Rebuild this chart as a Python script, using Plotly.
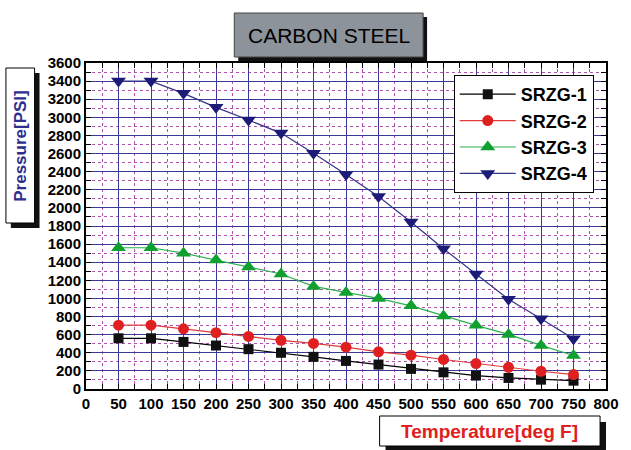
import plotly.graph_objects as go

temps = [50, 100, 150, 200, 250, 300, 350, 400, 450, 500, 550, 600, 650, 700, 750]
srzg1 = [560, 560, 520, 480, 440, 400, 355, 310, 270, 222, 184, 148, 122, 103, 92]
srzg2 = [705, 705, 665, 622, 580, 537, 503, 462, 410, 373, 326, 281, 240, 196, 159]
srzg3 = [1560, 1560, 1500, 1425, 1348, 1270, 1133, 1067, 1000, 918, 807, 703, 603, 481, 370]
srzg4 = [3400, 3400, 3265, 3110, 2970, 2826, 2603, 2370, 2125, 1844, 1548, 1270, 992, 777, 556]
names = ["SRZG-1", "SRZG-2", "SRZG-3", "SRZG-4"]

W, H = 631, 450
L, R, T, B = 86, 19, 63, 61
PW, PH = W - L - R, H - T - B


def px(x):
    return (x - L) / PW


def py(y):
    return (H - B - y) / PH


FONT = "Liberation Sans, Arial, sans-serif"

series = [
    (srzg1, "#000000", "#111111", "square", 10),
    (srzg2, "#e03a3a", "#e02020", "circle", 11),
    (srzg3, "#2eb04e", "#10a030", "triangle-up", 13),
    (srzg4, "#33338a", "#1c1c78", "triangle-down", 13),
]

fig = go.Figure()
for name, (ys, lc, mc, sym, sz) in zip(names, series):
    fig.add_trace(go.Scatter(
        x=temps, y=ys, name=name, mode="lines+markers",
        line=dict(color=lc, width=1.2),
        marker=dict(color=mc, symbol=sym, size=sz, line=dict(width=0)),
    ))


def box(x0, y0, x1, y1, fill, shadow=5, border="#000000"):
    return [
        dict(type="rect", xref="paper", yref="paper", layer="above",
             x0=px(x0 + shadow), x1=px(x1 + shadow), y0=py(y0 + shadow), y1=py(y1 + shadow),
             fillcolor="#111111", line=dict(width=0)),
        dict(type="rect", xref="paper", yref="paper", layer="above",
             x0=px(x0), x1=px(x1), y0=py(y0), y1=py(y1),
             fillcolor=fill, line=dict(color=border, width=1)),
    ]


shapes = []
shapes += box(236, 13, 427, 57, "#8c939b", shadow=4, border="#444444")
shapes += box(5, 68, 34, 223, "#ffffff", shadow=5)
shapes += box(383, 416, 606, 446, "#ffffff", shadow=6)

annotations = [
    dict(text="CARBON STEEL", x=px(331.5), y=py(35), xref="paper", yref="paper",
         xanchor="center", yanchor="middle",
         showarrow=False, font=dict(family=FONT, size=21, color="#000000")),
    dict(text="Pressure[PSI]", x=px(19.5), y=py(145.5), xref="paper", yref="paper",
         xanchor="center", yanchor="middle",
         showarrow=False, textangle=-90,
         font=dict(family=FONT, size=17, color="#2e2e8f", weight="bold")),
    dict(text="Temperature[deg F]", x=px(494.5), y=py(431), xref="paper", yref="paper",
         xanchor="center", yanchor="middle",
         showarrow=False, font=dict(family=FONT, size=19, color="#e02020", weight="bold")),
]

axis_common = dict(
    showline=True, linecolor="#000000", linewidth=2, mirror="ticks",
    ticks="inside", ticklen=5, tickcolor="#000000", tickwidth=1,
    showgrid=True, gridcolor="#3a3a96", gridwidth=1.3, zeroline=False,
    tickfont=dict(family=FONT, size=15, color="#000000", weight="bold"),
)

fig.update_layout(
    width=W, height=H,
    margin=dict(l=L, r=R, t=T, b=B),
    paper_bgcolor="white", plot_bgcolor="white",
    showlegend=True,
    legend=dict(
        x=px(458), y=py(75), xanchor="left", yanchor="top",
        bgcolor="white", bordercolor="#000000", borderwidth=1,
        font=dict(family=FONT, size=18, color="#000000", weight="bold"),
        itemwidth=56, tracegroupgap=0,
    ),
    xaxis=dict(range=[0, 800], dtick=50, tick0=0,
               minor=dict(dtick=25, ticks="inside", ticklen=5, tickcolor="#000000",
                          showgrid=True, gridcolor="#b050b0", griddash="dot", gridwidth=1),
               **axis_common),
    yaxis=dict(range=[0, 3600], dtick=200, tick0=0,
               minor=dict(dtick=100, ticks="inside", ticklen=5, tickcolor="#000000",
                          showgrid=True, gridcolor="#b050b0", griddash="dot", gridwidth=1),
               **axis_common),
    shapes=shapes,
    annotations=annotations,
)

fig.write_html("out.html", config={"displayModeBar": False},
               post_script="document.body.style.margin='0';")
